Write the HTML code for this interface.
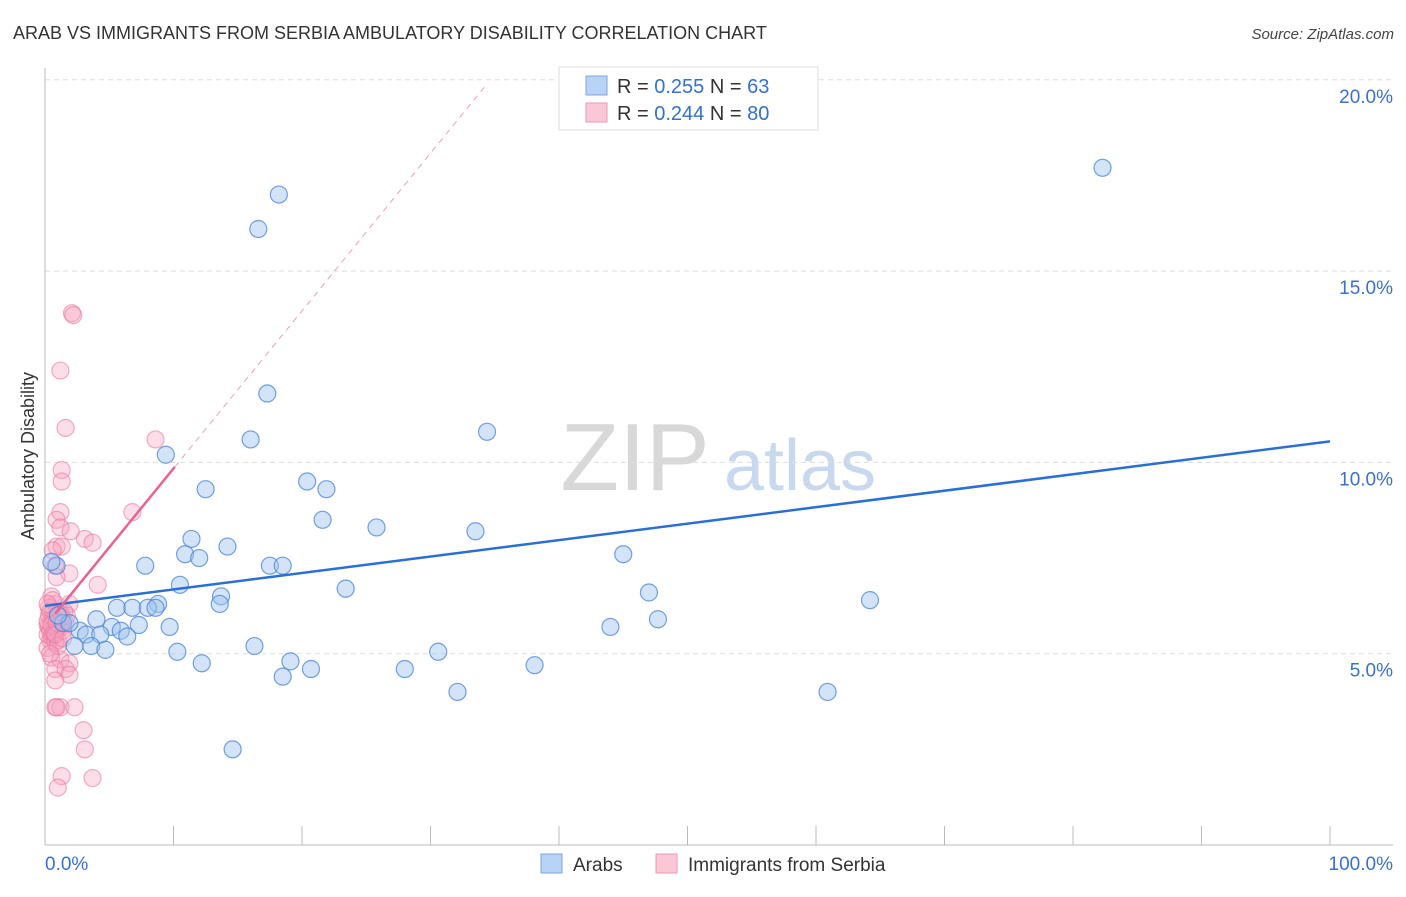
<!DOCTYPE html>
<html><head><meta charset="utf-8"><style>
body{margin:0;background:#fff;font-family:"Liberation Sans",sans-serif;}
svg text{font-family:"Liberation Sans",sans-serif;}
</style></head><body>
<svg id="chart" width="1406" height="892" viewBox="0 0 1406 892" xmlns="http://www.w3.org/2000/svg">
<text x="13" y="39" font-size="18" fill="#333">ARAB VS IMMIGRANTS FROM SERBIA AMBULATORY DISABILITY CORRELATION CHART</text>
<text x="1394" y="39" font-size="15" fill="#444" text-anchor="end" font-style="italic">Source: ZipAtlas.com</text>
<g>
<text x="635" y="490" font-size="96" fill="#d8d8d8" text-anchor="middle" font-family="Liberation Serif,serif">ZIP</text>
<text x="800" y="490" font-size="72" fill="#c8d8ee" text-anchor="middle">atlas</text>
</g>
<g id="grid"></g>
<g id="axes"></g>
<text transform="translate(34,456) rotate(-90)" font-size="18" fill="#333" text-anchor="middle">Ambulatory Disability</text>
<g id="pink"></g>
<g id="blue"></g>
<g id="trends"></g>
<g>
<rect x="559" y="67" width="259" height="63" fill="#fff" stroke="#ddd"/>
<rect x="586" y="76" width="21" height="19" fill="#b8d3f5" stroke="#7aa6e0"/>
<rect x="586" y="103" width="21" height="19" fill="#fbc6d6" stroke="#ee98b4"/>
<text x="617" y="93" font-size="20" fill="#333">R = <tspan fill="#3370d0">0.255</tspan>   N =  <tspan fill="#3370d0">63</tspan></text>
<text x="617" y="120" font-size="20" fill="#333">R = <tspan fill="#3370d0">0.244</tspan>   N = <tspan fill="#3370d0">80</tspan></text>
</g>
<g>
<rect x="541" y="854" width="21" height="19" fill="#b8d3f5" stroke="#7aa6e0"/>
<text x="573" y="871" font-size="19" fill="#333">Arabs</text>
<rect x="656" y="854" width="21" height="19" fill="#fbc6d6" stroke="#ee98b4"/>
<text x="688" y="871" font-size="19" fill="#333">Immigrants from Serbia</text>
</g>
</svg>
<script>
const xTickLabels=["0.0%","100.0%"];
const yTicks=[5,10,15,20];
const yTickLabels=["5.0%","10.0%","15.0%","20.0%"];
const arabX=[82.3,18.2,16.6,17.3,34.4,16.0,9.4,12.5,20.4,21.9,21.6,25.8,33.5,11.4,14.2,10.9,12.0,45.0,7.8,17.5,18.5,0.9,10.5,23.4,47.0,64.2,13.7,13.6,5.6,6.8,8.8,8.0,8.6,4.0,47.7,7.3,9.7,44.0,5.2,5.9,2.7,3.2,4.3,6.4,1.4,1.9,2.3,3.6,4.7,16.3,10.3,30.6,19.1,12.2,20.7,38.1,28.0,18.5,32.1,60.9,14.6,0.5,1.0];
const arabY=[17.7,17.0,16.1,11.8,10.8,10.6,10.2,9.3,9.5,9.3,8.5,8.3,8.2,8.0,7.8,7.6,7.5,7.6,7.3,7.3,7.3,7.3,6.8,6.7,6.6,6.4,6.5,6.3,6.2,6.2,6.3,6.2,6.2,5.9,5.9,5.75,5.7,5.7,5.7,5.6,5.6,5.5,5.5,5.45,5.8,5.8,5.2,5.2,5.1,5.2,5.05,5.05,4.8,4.75,4.6,4.7,4.6,4.4,4.0,4.0,2.5,7.4,6.0];
const serbX=[2.1,2.2,1.2,1.6,8.6,1.3,1.3,1.2,0.9,1.2,6.8,2.0,3.1,3.7,0.9,1.3,0.8,1.9,4.1,0.9,0.5,0.8,1.9,0.4,1.2,0.8,0.2,0.6,1.3,1.6,0.4,1.0,0.2,0.5,1.2,1.9,0.8,1.6,1.9,0.8,0.8,1.2,0.9,2.3,3.0,3.1,1.3,3.7,1.0,0.3,0.6,0.9,1.1,1.4,0.2,0.5,0.7,1.0,1.5,0.3,0.6,0.8,1.2,0.4,0.9,1.1,0.2,0.5,0.7,1.3,1.7,0.3,0.6,0.9,1.0,0.4,0.8,0.2,1.4,0.6];
const serbY=[13.9,13.85,12.4,10.9,10.6,9.8,9.5,8.7,8.5,8.3,8.7,8.2,8.0,7.9,7.8,7.8,7.3,7.1,6.8,7.0,6.5,6.3,6.3,6.1,6.1,5.9,5.75,5.6,5.7,5.8,5.35,5.35,5.15,4.9,4.85,4.75,4.6,4.6,4.45,4.3,3.6,3.6,3.6,3.6,3.0,2.5,1.8,1.75,1.5,6.0,5.9,5.8,5.7,5.6,5.5,5.45,5.9,6.0,6.1,5.7,5.5,5.3,5.8,5.6,5.65,6.05,5.85,5.75,5.55,5.95,6.0,6.2,6.4,5.8,5.2,5.0,5.5,6.3,5.4,7.7];
const arabTrend=[6.25,10.55];
const serbTrend=[5.72,0.412];
const NS="http://www.w3.org/2000/svg";
const X0=45,X1=1330,Y0=845,PPU=38.26;
const sx=v=>X0+(v/100)*(X1-X0);
const sy=v=>Y0-v*PPU;
function mk(tag,attrs,parent){const e=document.createElementNS(NS,tag);for(const k in attrs)e.setAttribute(k,attrs[k]);parent.appendChild(e);return e;}
const grid=document.getElementById('grid'),axes=document.getElementById('axes');
yTicks.forEach((t,i)=>{
 const l=mk('line',{x1:X0,x2:1393,y1:sy(t),y2:sy(t),stroke:'#ddd','stroke-dasharray':'5,4'},grid);
 
 
 const tx=mk('text',{x:1393,y:sy(t)+23,'font-size':19,fill:'#3a70d0','text-anchor':'end'},axes);
 tx.textContent=yTickLabels[i];
 
 
});
mk('line',{x1:X0,x2:X0,y1:68,y2:Y0,stroke:'#bbb'},axes);
mk('line',{x1:X0,x2:1393,y1:Y0,y2:Y0,stroke:'#bbb'},axes);
for(let i=1;i<=10;i++){const x=sx(i*10);const t=mk('line',{x1:x,x2:x,y1:826,y2:Y0,stroke:'#bbb'},axes);}
const xl0=mk('text',{x:45,y:870,'font-size':19,fill:'#3a70d0'},axes);xl0.textContent=xTickLabels[0];


const xl1=mk('text',{x:1393,y:870,'font-size':19,fill:'#3a70d0','text-anchor':'end'},axes);xl1.textContent=xTickLabels[1];


const pink=document.getElementById('pink'),blue=document.getElementById('blue');
serbX.forEach((v,i)=>{const c=mk('circle',{cx:sx(v),cy:sy(serbY[i]),r:8.5,fill:'rgba(246,160,188,0.35)',stroke:'rgba(235,120,160,0.6)','stroke-width':1.2},pink);
 
 });
arabX.forEach((v,i)=>{const c=mk('circle',{cx:sx(v),cy:sy(arabY[i]),r:8.5,fill:'rgba(160,196,240,0.45)',stroke:'rgba(70,130,215,0.75)','stroke-width':1.2},blue);
 
 });
const tr=document.getElementById('trends');
const bl=mk('line',{x1:sx(0),y1:sy(arabTrend[0]),x2:sx(100),y2:sy(arabTrend[1]),stroke:'#2a6fd6','stroke-width':2.5},tr);


const pf=x=>serbTrend[0]+serbTrend[1]*x;
const ps=mk('line',{x1:sx(0.8),y1:sy(pf(0.8)),x2:sx(10.1),y2:sy(pf(10.1)),stroke:'#e8638e','stroke-width':2.5},tr);


const pd=mk('line',{x1:sx(10.1),y1:sy(pf(10.1)),x2:sx(34.4),y2:sy(pf(34.4)),stroke:'#eba0b8','stroke-width':1,'stroke-dasharray':'6,5'},tr);


</script>
</body></html>
